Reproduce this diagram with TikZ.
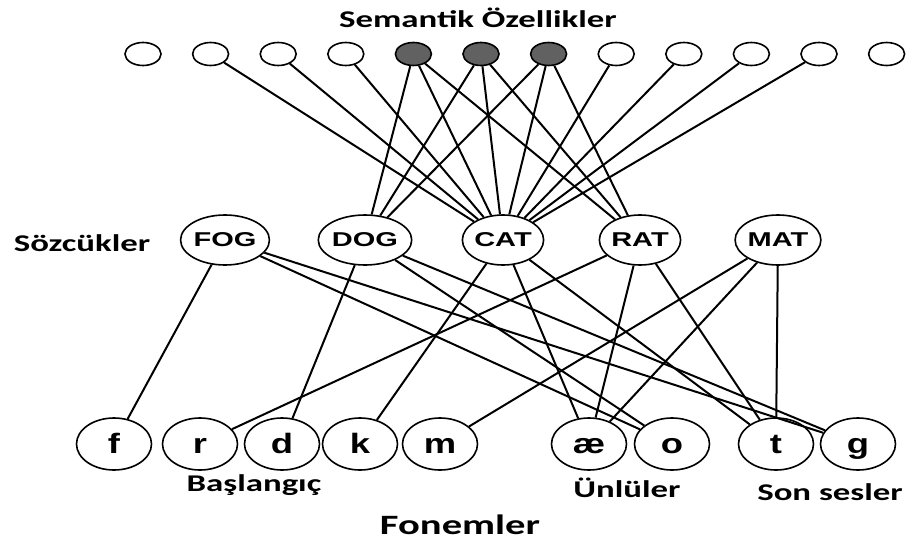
\documentclass[tikz,border=0pt]{standalone}
\usepackage{fontspec}
\usetikzlibrary{shapes.geometric}
\newfontfamily\lblfont[FakeStretch=1.45]{Carlito}
\newfontfamily\wordfont[FakeStretch=1.45]{Liberation Sans}
\newfontfamily\phonfont[FakeStretch=1.3]{Liberation Sans}

\tikzset{
  feature/.style={ellipse, draw, line width=1.6pt, fill=white,
    minimum width=36pt, minimum height=23pt, inner sep=0pt},
  shared/.style={feature, fill=black!62},
  word/.style={ellipse, draw, line width=1.6pt, fill=white,
    minimum width=75pt, minimum height=50pt, inner sep=0pt,
    font=\wordfont\bfseries\fontsize{20}{20}\selectfont},
  phon/.style={ellipse, draw, line width=1.6pt, fill=white,
    minimum width=75pt, minimum height=52pt, inner sep=0pt,
    text height=20pt, text depth=2pt,
    font=\phonfont\bfseries\fontsize{28}{28}\selectfont},
  layer/.style={inner sep=0pt, font=\lblfont\bfseries\fontsize{24}{24}\selectfont},
  link/.style={line width=2pt}
}

\begin{document}
\begin{tikzpicture}[x=1pt, y=-1pt]
  \useasboundingbox (0,0) rectangle (908,541);

  % semantic feature units (the three middle ones are shared)
  \foreach \i in {0,...,11} {
    \pgfmathsetmacro{\fx}{143+67.6*\i}
    \ifnum\i>3 \ifnum\i<7
      \node[shared] (s\i) at (\fx,54) {};
    \else
      \node[feature] (s\i) at (\fx,54) {};
    \fi\else
      \node[feature] (s\i) at (\fx,54) {};
    \fi
  }

  % word units
  \node[word] (fog) at (225,240) {FOG};
  \node[word] (dog) at (365,240) {DOG};
  \node[word] (cat) at (503,240) {CAT};
  \node[word] (rat) at (640,240) {RAT};
  \node[word] (mat) at (778,240) {MAT};

  % phoneme units
  \node[phon] (pf) at (114,444) {f};
  \node[phon] (pr) at (200,444) {r};
  \node[phon] (pd) at (282,444) {d};
  \node[phon] (pk) at (360,444) {k};
  \node[phon] (pm) at (440,444) {m};
  \node[phon] (pae) at (589,444) {æ};
  \node[phon] (po) at (672,444) {o};
  \node[phon] (pt) at (776,444) {t};
  \node[phon] (pg) at (858,444) {g};

  % layer labels
  \node[layer] (lsem) at (478,18) {Semantik Özellikler};
  \node[layer] (lword) at (82,243) {Sözcükler};
  \node[layer] (lon) at (254,485) {Başlangıç};
  \node[layer] (lvow) at (627,488) {Ünlüler};
  \node[layer] (lcod) at (830,492) {Son sesler};
  \node[layer, font=\lblfont\bfseries\fontsize{28}{28}\selectfont] (lphon) at (460,525) {Fonemler};

  % feature-to-word connections
  \foreach \i in {1,...,10} \draw[link] (s\i) -- (cat);
  \foreach \i in {4,5,6} {
    \draw[link] (s\i) -- (dog);
    \draw[link] (s\i) -- (rat);
  }

  % word-to-phoneme connections
  \draw[link] (fog) -- (pf);
  \draw[link] (fog) -- (po);
  \draw[link] (fog) -- (pg);
  \draw[link] (dog) -- (pd);
  \draw[link] (dog) -- (po);
  \draw[link] (dog) -- (pg);
  \draw[link] (cat) -- (pk);
  \draw[link] (cat) -- (pae);
  \draw[link] (cat) -- (pt);
  \draw[link] (rat) -- (pr);
  \draw[link] (rat) -- (pae);
  \draw[link] (rat) -- (pt);
  \draw[link] (mat) -- (pm);
  \draw[link] (mat) -- (pae);
  \draw[link] (mat) -- (pt);
\end{tikzpicture}
\end{document}
